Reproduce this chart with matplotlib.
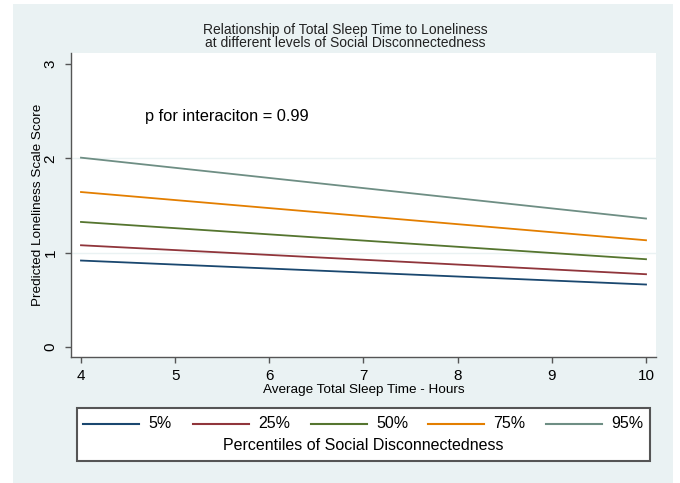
import matplotlib
matplotlib.use("Agg")
import matplotlib.pyplot as plt
from matplotlib.patches import Rectangle
from matplotlib.lines import Line2D

plt.rcParams['font.family'] = ['Liberation Sans', 'DejaVu Sans']

sleep_hours = [4, 10]
percentiles = ["5%", "25%", "50%", "75%", "95%"]
pred_5 = [0.917, 0.663]
pred_25 = [1.079, 0.772]
pred_50 = [1.326, 0.931]
pred_75 = [1.643, 1.132]
pred_95 = [2.007, 1.362]
series = [pred_5, pred_25, pred_50, pred_75, pred_95]
colors = ["#1a476f", "#90353b", "#55752f", "#e37e00", "#6e8e84"]
x_ticks = [4, 5, 6, 7, 8, 9, 10]
y_ticks = [0, 1, 2, 3]

W, H = 680, 483
fig = plt.figure(figsize=(6.8, 4.83), dpi=100, facecolor="white")
bg = "#eaf2f3"
fig.patches.append(Rectangle((13 / W, 0), 660 / W, (H - 4) / H,
                             transform=fig.transFigure, facecolor=bg,
                             edgecolor="none", zorder=-10))

ax = fig.add_axes([71 / W, 1 - 357 / H, (656 - 71) / W, (357 - 53) / H])
ax.set_facecolor("white")
for vals, c, lab in zip(series, colors, percentiles):
    ax.plot(sleep_hours, vals, color=c, lw=1.3, label=lab)

ax.set_xlim(3.894, 10.106)
ax.set_ylim(-0.105, 3.116)
ax.set_xticks(x_ticks)
ax.set_yticks(y_ticks)
ax.set_yticklabels([str(v) for v in y_ticks], rotation=90, va="center")
for yv in [1, 2]:
    ax.axhline(yv, color=bg, lw=1.0, zorder=0)
for s in ["top", "right"]:
    ax.spines[s].set_visible(False)
for s in ["left", "bottom"]:
    ax.spines[s].set_color("#555555")
    ax.spines[s].set_linewidth(1.0)
ax.tick_params(axis="both", direction="out", length=4.3, width=1.0,
               color="#555555", labelsize=11)
ax.tick_params(axis="y", pad=5.5)
ax.tick_params(axis="x", pad=4)
ax.set_xlabel("Average Total Sleep Time - Hours", fontsize=9.7, labelpad=1)
ax.set_ylabel("Predicted Loneliness Scale Score", fontsize=9.7, va="center")
ax.yaxis.set_label_coords(-0.056, 0.5)
fig.text(345 / W, 1 - 36.5 / H,
         "Relationship of Total Sleep Time to Loneliness\nat different levels of Social Disconnectedness",
         fontsize=10, linespacing=0.92, ha="center", va="center", color="#222222")
ax.text(4.68, 2.44, "p for interaciton = 0.99", fontsize=11.8, va="center", ha="left")

# Legend box
fig.patches.append(Rectangle((77 / W, 1 - 461 / H), (650 - 77) / W, (461 - 408) / H,
                             transform=fig.transFigure, facecolor="white",
                             edgecolor="#555555", lw=1.5, zorder=1))
line_starts = [83, 193, 311, 428, 546]
line_len = 56
ly = 1 - 424 / H
for x0, c, lab in zip(line_starts, colors, percentiles):
    fig.add_artist(Line2D([x0 / W, (x0 + line_len) / W], [ly, ly], color=c, lw=1.5,
                          transform=fig.transFigure, zorder=2))
    fig.text((x0 + line_len + 9) / W, ly, lab, fontsize=11.5, ha="left", va="center", zorder=3)
fig.text(363 / W, 1 - 445 / H, "Percentiles of Social Disconnectedness",
         fontsize=11.5, ha="center", va="center", zorder=3)

fig.savefig("out.png", dpi=100, facecolor="white")
